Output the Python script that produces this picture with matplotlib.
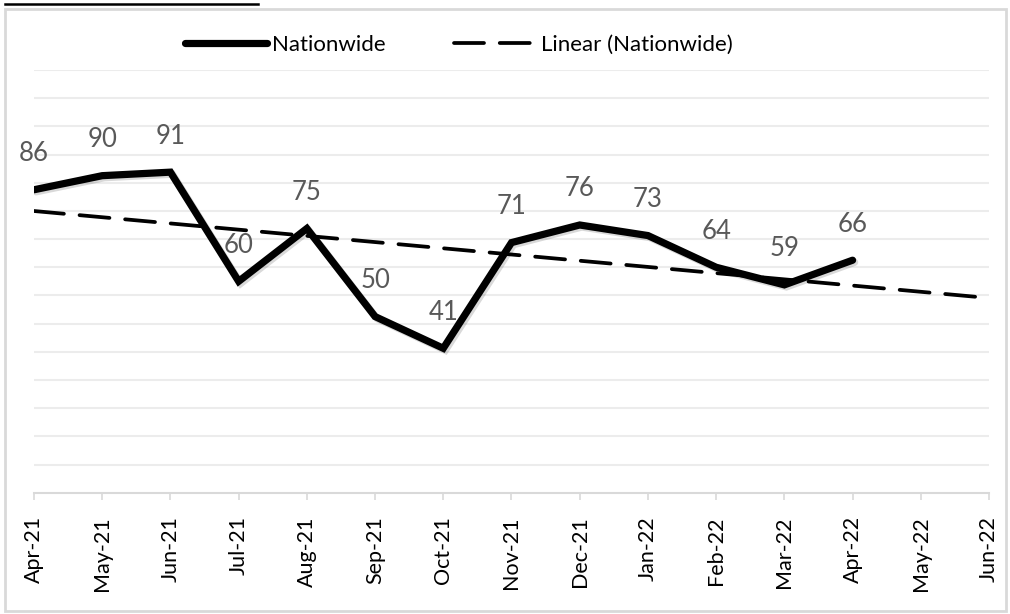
import numpy as np
import matplotlib
matplotlib.use("Agg")
import matplotlib.pyplot as plt
import matplotlib.patheffects as pe
from matplotlib.lines import Line2D
from matplotlib.patches import Rectangle

months = ["Apr-21", "May-21", "Jun-21", "Jul-21", "Aug-21", "Sep-21", "Oct-21",
          "Nov-21", "Dec-21", "Jan-22", "Feb-22", "Mar-22", "Apr-22", "May-22", "Jun-22"]
nationwide = [86, 90, 91, 60, 75, 50, 41, 71, 76, 73, 64, 59, 66]

plt.rcParams["font.family"] = ["Lato", "DejaVu Sans"]

W, H = 1010, 614
fig = plt.figure(figsize=(W / 100, H / 100), dpi=100)
ax = fig.add_axes([34 / W, 1 - 492.7 / H, (989 - 34) / W, (492.7 - 70) / H])

x_all = np.arange(len(months))
x_data = np.arange(len(nationwide))

# linear trend, forecast forward to the end of the axis
slope, intercept = np.polyfit(x_data, nationwide, 1)
trend = slope * x_all + intercept

dash = (8.0, 4.2)
ax.plot(x_all, trend, color="black", lw=2.7, dashes=dash,
        dash_capstyle="round", zorder=3)
ax.plot(x_data, nationwide, color="black", lw=5.2, solid_joinstyle="miter",
        solid_capstyle="round", zorder=4,
        path_effects=[pe.SimpleLineShadow(offset=(1.5, -1.5), shadow_color="black", alpha=0.15),
                      pe.Normal()])

for xi, v in zip(x_data, nationwide):
    ax.annotate(str(v), (xi, v), xytext=(0, 36), textcoords="offset pixels",
                ha="center", va="center", fontsize=18.5, color="#595959", zorder=5)

ax.set_xlim(0, len(months) - 1)
ax.set_ylim(0, 120)
ax.set_yticks(np.arange(8, 121, 8))
ax.yaxis.grid(True, color="#ececec", lw=1.5)
ax.set_axisbelow(True)
ax.tick_params(axis="y", left=False, labelleft=False)
ax.set_xticks(x_all)
ax.set_xticklabels(months, rotation=90, fontsize=15.5, color="black")
ax.tick_params(axis="x", direction="out", length=5, width=1.2, color="#d9d9d9", pad=12)
for s in ["left", "right", "top"]:
    ax.spines[s].set_visible(False)
ax.spines["bottom"].set_color("#d9d9d9")
ax.spines["bottom"].set_linewidth(1.5)

handles = [Line2D([], [], color="black", lw=5.2, solid_capstyle="round"),
           Line2D([], [], color="black", lw=2.7, dashes=dash, dash_capstyle="round")]
fig.legend(handles, ["Nationwide", "Linear (Nationwide)"], loc="center left",
           bbox_to_anchor=(174 / W, 1 - 45 / H), ncol=2, frameon=False,
           fontsize=16, handlelength=3.7, handletextpad=0.2, columnspacing=3.1,
           borderpad=0)

# chart frame and the cut-off heading rule above it
fig.add_artist(Rectangle((5 / W, 1 - 611 / H), 1001 / W, 602 / H, transform=fig.transFigure,
                         fill=False, edgecolor="#d9d9d9", lw=2))
fig.add_artist(Line2D([5 / W, 258 / W], [1 - 3.5 / H, 1 - 3.5 / H],
                      transform=fig.transFigure, color="black", lw=1.8))

fig.savefig("out.png", dpi=100)
